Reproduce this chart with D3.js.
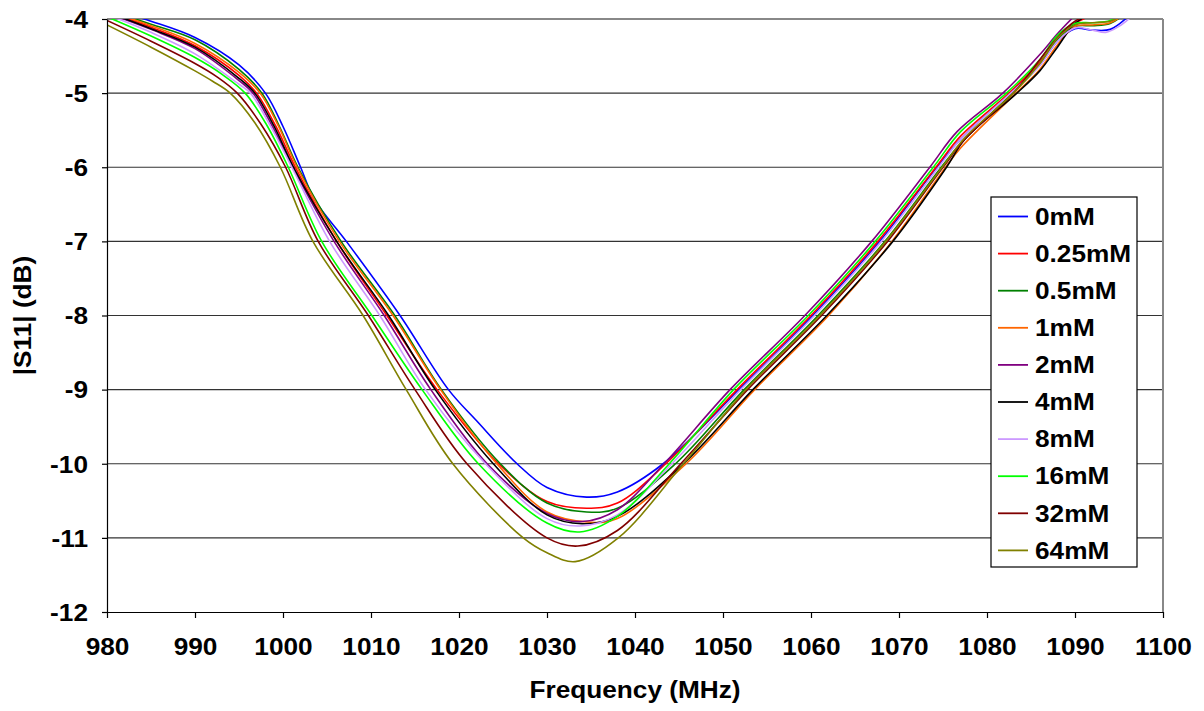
<!DOCTYPE html>
<html>
<head>
<meta charset="utf-8">
<script src="https://cdn.jsdelivr.net/npm/d3@7"></script>
<style>
    body { margin: 0; background: #fff; }
    text { font-family: "Liberation Sans", Arial, sans-serif; font-weight: bold; fill: #000; }
</style>
</head>
<body>
<svg id="chart" width="1204" height="711"></svg>
<script>

const seriesNames = ['0mM', '0.25mM', '0.5mM', '1mM', '2mM', '4mM', '8mM', '16mM', '32mM', '64mM'];
const seriesColors = ['#0000ff', '#ff0000', '#008000', '#ff6600', '#800080', '#000000', '#cc99ff', '#00ff00', '#800000', '#808000'];

const xTicks = [980, 990, 1000, 1010, 1020, 1030, 1040, 1050, 1060, 1070, 1080, 1090, 1100];
const yTicks = [-4, -5, -6, -7, -8, -9, -10, -11, -12];

// [frequency MHz, |S11| dB]
const s0mM = [[980,-3.85],[985,-4.03],[990,-4.25],[995,-4.62],[998,-5.0],[1000,-5.45],[1002,-6.0],[1003.6,-6.44],[1007.2,-7.0],[1013.3,-8.0],[1018.8,-9.0],[1022,-9.42],[1026.6,-10.0],[1030,-10.32],[1034.5,-10.45],[1038,-10.38],[1043.2,-10.0],[1051.8,-9.0],[1060.2,-8.0],[1067.8,-7.0],[1074.3,-6.0],[1077,-5.62],[1082.6,-5.0],[1086,-4.62],[1088,-4.3],[1090,-4.13],[1092,-4.15],[1094,-4.14],[1096,-3.97]];
const s025mM = [[980,-3.9],[985,-4.11],[990,-4.36],[995,-4.76],[997.0,-5],[999.2,-5.45],[1001.4,-6],[1006.1,-7],[1011.8,-8],[1017.5,-9],[1024.5,-10],[1030,-10.51],[1034.5,-10.60],[1038,-10.53],[1043.5,-10],[1051.6,-9],[1060.0,-8],[1067.6,-7],[1074.2,-6],[1077,-5.58],[1082.5,-5],[1086,-4.58],[1088,-4.28],[1090,-4.06],[1092,-3.95]];
const s05mM = [[980,-3.88],[985,-4.07],[990,-4.28],[995,-4.68],[997.6,-5],[999.6,-5.45],[1001.7,-6],[1006.6,-7],[1012.7,-8],[1018.0,-9],[1024.7,-10],[1030,-10.53],[1034.5,-10.65],[1038,-10.6],[1044.6,-10],[1052.4,-9],[1060.8,-8],[1068.4,-7],[1074.8,-6],[1077,-5.68],[1082.9,-5],[1086,-4.62],[1088,-4.28],[1090,-4.1],[1092,-4.09],[1094,-4.06],[1096,-3.9]];
const s1mM = [[980,-3.89],[985,-4.09],[990,-4.33],[995,-4.72],[997.4,-5],[999.5,-5.45],[1001.6,-6],[1006.4,-7],[1012.5,-8],[1017.9,-9],[1024.3,-10],[1030,-10.65],[1035,-10.79],[1038,-10.74],[1045.8,-10],[1053.6,-9],[1062.0,-8],[1069.2,-7],[1075.3,-6],[1077,-5.74],[1083.3,-5],[1086,-4.68],[1088,-4.35],[1090,-4.1],[1092,-4.08],[1094,-4.05],[1096,-3.9]];
const s2mM = [[980,-3.92],[985,-4.14],[990,-4.40],[995,-4.83],[996.6,-5],[998.8,-5.45],[1001.1,-6],[1005.8,-7],[1011.5,-8],[1016.8,-9],[1023.2,-10],[1030,-10.67],[1034,-10.78],[1038,-10.62],[1043.3,-10],[1050.8,-9],[1059.3,-8],[1066.9,-7],[1073.5,-6],[1076.6,-5.52],[1081.8,-5],[1086,-4.48],[1088,-4.2],[1090,-3.95]];
const s4mM = [[980,-3.91],[985,-4.13],[990,-4.38],[995,-4.80],[996.8,-5],[999.0,-5.45],[1001.2,-6],[1006.1,-7],[1012.0,-8],[1017.3,-9],[1023.9,-10],[1030,-10.69],[1034,-10.81],[1038,-10.71],[1045.5,-10],[1053.4,-9],[1061.8,-8],[1069.3,-7],[1075.4,-6],[1077.5,-5.62],[1083.4,-5],[1086,-4.7],[1088,-4.38],[1090,-4.06],[1092,-3.92]];
const s8mM = [[980,-3.94],[985,-4.18],[990,-4.47],[995,-4.88],[996.3,-5],[998.6,-5.45],[1001.0,-6],[1005.3,-7],[1011.0,-8],[1016.2,-9],[1023.0,-10],[1030,-10.74],[1033.7,-10.84],[1038,-10.69],[1044.2,-10],[1052.0,-9],[1060.4,-8],[1068.0,-7],[1074.5,-6],[1077,-5.62],[1082.7,-5],[1086,-4.63],[1088,-4.3],[1090,-4.12],[1092,-4.15],[1093.5,-4.18],[1095,-4.1],[1096.5,-3.96]];
const s16mM = [[980,-3.97],[985,-4.23],[990,-4.52],[993,-4.74],[995.7,-5],[998.1,-5.42],[1000.6,-6],[1004.4,-7],[1010.1,-8],[1015.8,-9],[1022.2,-10],[1030,-10.80],[1033.7,-10.92],[1038,-10.71],[1043.9,-10],[1051.2,-9],[1059.7,-8],[1067.3,-7],[1073.9,-6],[1077,-5.52],[1082.2,-5],[1086,-4.55],[1088,-4.22],[1090,-4.06],[1092,-4.05],[1094,-4.02],[1096,-3.88]];
const s32mM = [[980,-4.02],[985,-4.30],[990,-4.60],[992.5,-4.78],[994.8,-5],[997.5,-5.42],[1000.3,-6],[1004.0,-7],[1009.7,-8],[1015.0,-9],[1020.9,-10],[1030,-11.0],[1033.5,-11.11],[1038,-10.9],[1045.2,-10],[1052.8,-9],[1061.2,-8],[1068.7,-7],[1075.0,-6],[1077.5,-5.62],[1083.0,-5],[1086,-4.55],[1088,-4.25],[1090,-4.03],[1092,-3.93]];
const s64mM = [[980,-4.08],[985,-4.38],[990,-4.70],[992,-4.84],[994.0,-5],[996.8,-5.4],[999.7,-6],[1003.4,-7],[1009.1,-8],[1014.0,-9],[1019.3,-10],[1027.3,-11],[1030,-11.2],[1033.2,-11.32],[1038.1,-11.0],[1045.5,-10],[1052.6,-9],[1061.0,-8],[1068.5,-7],[1074.9,-6],[1077.5,-5.6],[1083.0,-5],[1086,-4.6],[1088,-4.26],[1090,-4.08],[1092,-4.05],[1094,-4.03],[1096,-3.9]];

const seriesData = [s0mM, s025mM, s05mM, s1mM, s2mM, s4mM, s8mM, s16mM, s32mM, s64mM];

const plotL = 107, plotR = 1163, plotT = 19, plotB = 612;
const stretch = 1.14;
const fontSize = 23;

const svg = d3.select('#chart');

const x = d3.scaleLinear().domain([980, 1100]).range([plotL, plotR]);
const y = d3.scaleLinear().domain([-12, -4]).range([plotB, plotT]);

drawGrid();
drawSeries();
drawAxes();
drawLegend();

function drawGrid () {
    svg.append('g')
        .selectAll('line')
        .data(yTicks.filter(d => d > -12 && d < -4))
        .join('line')
        .attr('x1', plotL)
        .attr('x2', plotR)
        .attr('y1', d => y(d))
        .attr('y2', d => y(d))
        .attr('stroke', '#333')
        .attr('stroke-width', 1.2);

    svg.append('line')
        .attr('x1', plotL).attr('x2', plotR)
        .attr('y1', plotT).attr('y2', plotT)
        .attr('stroke', '#888').attr('stroke-width', 2);

    svg.append('line')
        .attr('x1', plotR).attr('x2', plotR)
        .attr('y1', plotT).attr('y2', plotB)
        .attr('stroke', '#888').attr('stroke-width', 2);
}

function drawSeries () {
    svg.append('clipPath')
        .attr('id', 'plotClip')
        .append('rect')
        .attr('x', plotL)
        .attr('y', plotT)
        .attr('width', plotR - plotL)
        .attr('height', plotB - plotT);

    const line = d3.line()
        .x(d => x(d[0]))
        .y(d => y(d[1]))
        .curve(d3.curveCatmullRom.alpha(0.5));

    svg.append('g')
        .attr('clip-path', 'url(#plotClip)')
        .selectAll('path')
        .data(seriesData)
        .join('path')
        .attr('d', line)
        .attr('fill', 'none')
        .attr('stroke', (d, i) => seriesColors[i])
        .attr('stroke-width', 1.6);
}

function drawAxes () {
    let yAxis = svg.append('g')
        .attr('transform', `translate(${plotL},0)`)
        .call(d3.axisLeft(y).tickValues(yTicks).tickSize(5).tickSizeOuter(0).tickFormat(d => String(d)));

    yAxis.selectAll('text')
        .attr('x', -19 / stretch)
        .attr('dy', '0.36em')
        .attr('transform', `scale(${stretch},1)`)
        .style('font-size', fontSize + 'px')
        .style('font-family', '"Liberation Sans", Arial, sans-serif')
        .style('font-weight', 'bold');

    let xAxis = svg.append('g')
        .attr('transform', `translate(0,${plotB})`)
        .call(d3.axisBottom(x).tickValues(xTicks).tickSize(6).tickSizeOuter(0).tickFormat(d => String(d)));

    xAxis.selectAll('text')
        .attr('y', 27)
        .attr('dy', '0.71em')
        .attr('transform', `scale(${stretch},1)`)
        .style('font-size', fontSize + 'px')
        .style('font-family', '"Liberation Sans", Arial, sans-serif')
        .style('font-weight', 'bold');

    svg.selectAll('.domain, .tick line')
        .attr('stroke', '#000')
        .attr('stroke-width', 1.2);

    label(svg, (plotL + plotR) / 2, 690, 'Frequency (MHz)', fontSize, 'middle', 0);
    label(svg, 23, (plotT + plotB) / 2, '|S11| (dB)', fontSize, 'middle', -90);
}

function drawLegend () {
    const lx = 991, ly = 197, lw = 146, lh = 370;
    const rowStep = 37.1, row0 = 216.5;

    let g = svg.append('g');

    g.append('rect')
        .attr('x', lx)
        .attr('y', ly)
        .attr('width', lw)
        .attr('height', lh)
        .attr('fill', '#fff')
        .attr('stroke', '#000')
        .attr('stroke-width', 1.2);

    seriesNames.forEach(function (name, i) {
        let cy = row0 + i * rowStep;
        g.append('line')
            .attr('x1', 998)
            .attr('x2', 1028)
            .attr('y1', cy)
            .attr('y2', cy)
            .attr('stroke', seriesColors[i])
            .attr('stroke-width', 1.8);
        label(g, 1035, cy, name, fontSize, 'start', 0);
    });
}

function label (parent, px, py, str, size, anchor, rot) {
    let tr = `translate(${px},${py})`;
    if (rot) tr += ` rotate(${rot})`;
    tr += ` scale(${stretch},1)`;
    parent.append('g')
        .attr('transform', tr)
        .append('text')
        .attr('text-anchor', anchor)
        .attr('dy', '0.36em')
        .style('font-size', size + 'px')
        .text(str);
}

</script>
</body>
</html>
